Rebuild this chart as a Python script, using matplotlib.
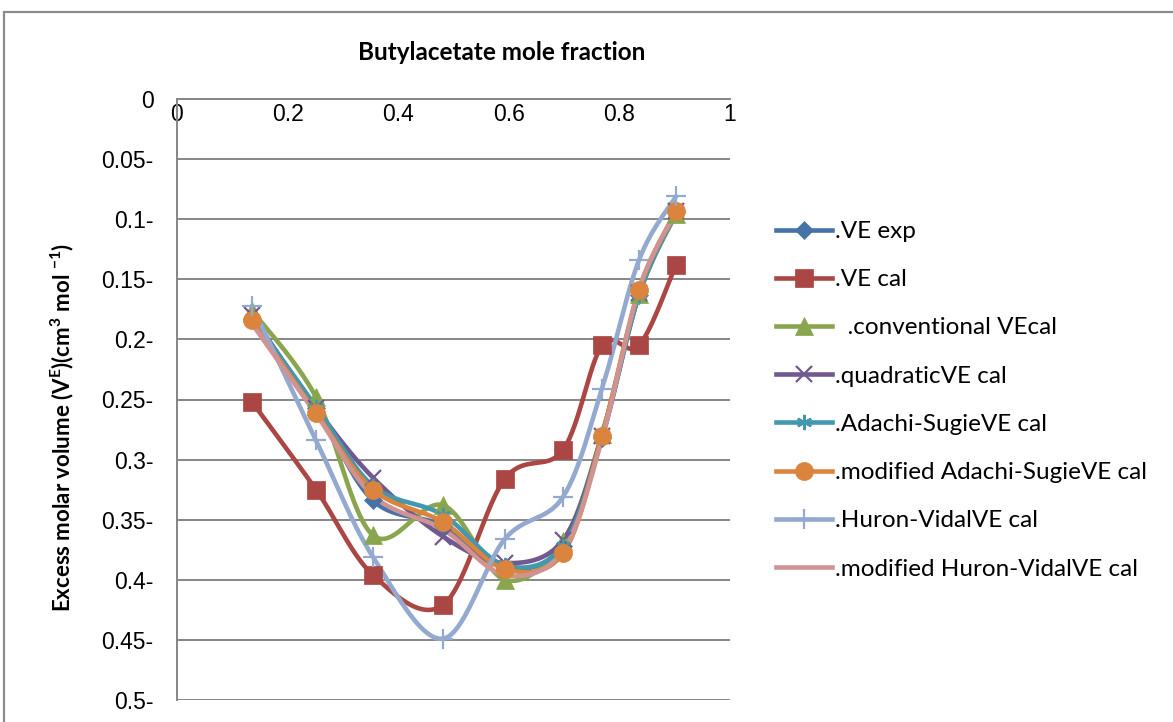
import numpy as np
import matplotlib
matplotlib.use('Agg')
import matplotlib.pyplot as plt
from matplotlib.lines import Line2D
from matplotlib.patches import Rectangle

plt.rcParams['mathtext.fontset'] = 'custom'
plt.rcParams['mathtext.rm'] = 'Lato:bold'
plt.rcParams['mathtext.it'] = 'Lato:bold'
plt.rcParams['mathtext.bf'] = 'Lato:bold'

# mole fraction of butyl acetate
x_frac = [0.1356, 0.2514, 0.3544, 0.481, 0.593, 0.698, 0.7685, 0.8354, 0.9024]

# excess molar volumes (cm3/mol), negative
ve_exp = [-0.183, -0.257, -0.334, -0.355, -0.390, -0.372, -0.282, -0.163, -0.094]
ve_cal = [-0.252, -0.325, -0.396, -0.421, -0.316, -0.292, -0.205, -0.205, -0.138]
ve_conventional = [-0.176, -0.248, -0.363, -0.338, -0.400, -0.368, -0.279, -0.162, -0.096]
ve_quadratic = [-0.180, -0.257, -0.315, -0.364, -0.386, -0.367, -0.280, -0.161, -0.093]
ve_adachi = [-0.182, -0.256, -0.322, -0.346, -0.388, -0.372, -0.281, -0.163, -0.094]
ve_mod_adachi = [-0.184, -0.261, -0.325, -0.352, -0.391, -0.378, -0.280, -0.159, -0.093]
ve_huron = [-0.172, -0.284, -0.381, -0.449, -0.366, -0.331, -0.241, -0.134, -0.081]
ve_mod_huron = [-0.187, -0.262, -0.330, -0.358, -0.396, -0.376, -0.283, -0.158, -0.094]

labels = ['.VE exp', '.VE cal', '  .conventional VEcal', '.quadraticVE cal',
          '.Adachi-SugieVE cal', '.modified Adachi-SugieVE cal',
          '.Huron-VidalVE cal', '.modified Huron-VidalVE cal']
colors = ['#4572A7', '#AA4643', '#89A54E', '#71588F', '#4198AF', '#DB843D',
          '#93A9CF', '#D19392']
markers = ['D', 's', '^', 'x', (6, 2, 0), 'o', '+', None]
msizes = [9, 13, 13, 11, 11, 13, 14, 0]
series = [ve_exp, ve_cal, ve_conventional, ve_quadratic, ve_adachi,
          ve_mod_adachi, ve_huron, ve_mod_huron]


def smooth(xs, ys, n=30):
    # Bezier smoothing through the points (like spreadsheet "smoothed line")
    p = np.column_stack([xs, ys]).astype(float)
    p = np.vstack([p[0], p, p[-1]])
    t = np.linspace(0, 1, n)[:, None]
    out = []
    for i in range(1, len(p) - 2):
        p0, p1, p2, p3 = p[i - 1], p[i], p[i + 1], p[i + 2]
        c1 = p1 + (p2 - p0) / 6
        c2 = p2 - (p3 - p1) / 6
        seg = ((1 - t) ** 3) * p1 + 3 * ((1 - t) ** 2) * t * c1 + 3 * (1 - t) * t ** 2 * c2 + t ** 3 * p2
        out.append(seg)
    out = np.vstack(out)
    return out[:, 0], out[:, 1]


fig = plt.figure(figsize=(11.73, 7.22), dpi=100)
ax = fig.add_axes([177 / 1173, 1 - 700 / 722, 553 / 1173, 601 / 722])

handles = []
for ys, c, m, ms, lab in zip(series, colors, markers, msizes, labels):
    sx, sy = smooth(x_frac, ys)
    ax.plot(sx, sy, color=c, lw=3.3, solid_capstyle='round', zorder=3)
    thin = m in ('x', '+', (6, 2, 0))
    if m is not None:
        ax.plot(x_frac, ys, ls='none', marker=m, ms=ms, color=c,
                mec=c, mew=1.6 if thin else 0.5, zorder=4)
    handles.append(Line2D([], [], color=c, lw=3.3, marker=m, ms=ms, mec=c,
                          mew=1.6 if thin else 0.5))

ax.set_xlim(0, 1)
ax.set_ylim(-0.5, 0)
ax.set_xticks(np.arange(0, 1.01, 0.2))
ax.set_xticklabels(['0', '0.2', '0.4', '0.6', '0.8', '1'])
yt = np.arange(-0.5, 0.001, 0.05)
ax.set_yticks(yt)
ax.set_yticklabels(['0' if abs(v) < 1e-9 else f'{abs(v):g}-' for v in yt])

ax.grid(axis='y', color='#868686', lw=1.4)
ax.set_axisbelow(True)
for s in ['right', 'top']:
    ax.spines[s].set_visible(False)
ax.spines['bottom'].set_position(('data', 0))
ax.spines['bottom'].set_color('#868686')
ax.spines['bottom'].set_linewidth(1.4)
ax.spines['left'].set_color('#868686')
ax.spines['left'].set_linewidth(1.4)
ax.tick_params(axis='x', length=0, pad=3, labelsize=16.5)
ax.tick_params(axis='y', length=0, pad=17, labelsize=16.5)
for lbl in ax.get_xticklabels() + ax.get_yticklabels():
    lbl.set_fontfamily('Liberation Sans')

fig.text(502 / 1173, 1 - 52 / 722, 'Butylacetate mole fraction',
         ha='center', va='center', fontsize=17.5, fontweight='bold', family='Lato')
fig.text(62 / 1173, 1 - 427 / 722,
         r'Excess molar volume (V$^{E}$)(cm$^{3}$ mol $^{-1}$)',
         ha='center', va='center', rotation=90, fontsize=16,
         fontweight='bold', family='Lato')

fig.legend(handles, labels, loc='upper left', bbox_to_anchor=(776 / 1173, 1 - 221 / 722),
           frameon=False, prop={'family': 'Lato', 'size': 17.5},
           handlelength=2.3, handletextpad=0.12, labelspacing=1.12, borderpad=0,
           borderaxespad=0)

# chart frame
fig.patches.append(Rectangle((4 / 1173, -0.2), 1.2, 1.2 - 12 / 722,
                             transform=fig.transFigure, fill=False,
                             ec='#8c8c8c', lw=1.6))

fig.savefig('out.png', dpi=100)
